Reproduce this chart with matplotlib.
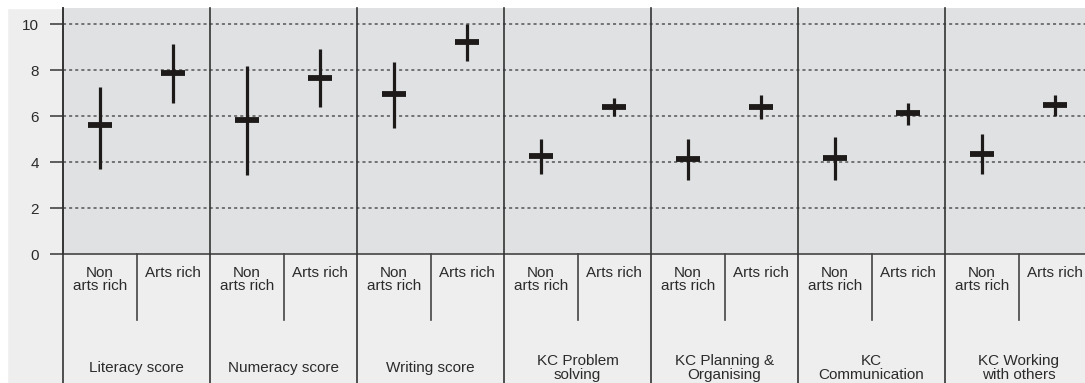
import matplotlib.pyplot as plt
from matplotlib.patches import Rectangle
import matplotlib.transforms as mtransforms

# значения
measures = ['Literacy score', 'Numeracy score', 'Writing score', 'KC Problem\nsolving',
            'KC Planning &\nOrganising', 'KC\nCommunication', 'KC Working\nwith others']
groups = ['Non\narts rich', 'Arts rich']
non_mean = [5.6, 5.83, 6.94, 4.25, 4.13, 4.19, 4.36]
non_low = [3.7, 3.43, 5.49, 3.46, 3.22, 3.22, 3.46]
non_high = [7.26, 8.17, 8.36, 5.01, 5.01, 5.1, 5.23]
arts_mean = [7.87, 7.65, 9.2, 6.41, 6.41, 6.12, 6.48]
arts_low = [6.57, 6.39, 8.39, 6.0, 5.86, 5.61, 6.01]
arts_high = [9.13, 8.91, 10.0, 6.78, 6.91, 6.57, 6.91]
y_ticks = [0, 2, 4, 6, 8, 10]

W, H = 1085, 383
fig = plt.figure(figsize=(W / 100, H / 100), dpi=100)
fig.set_facecolor('#eeeeee')
plt.rcParams['font.family'] = ['Liberation Sans', 'DejaVu Sans']

# белые поля сверху и слева
fig.patches.append(Rectangle((0, 1 - 8 / H), 1, 8 / H, transform=fig.transFigure,
                             color='white', zorder=-5))
fig.patches.append(Rectangle((0, 0), 7 / W, 1, transform=fig.transFigure,
                             color='white', zorder=-5))

x0, x1 = 63, 1092
ytop, ybot = 8, 254
ax = fig.add_axes([x0 / W, 1 - ybot / H, (x1 - x0) / W, (ybot - ytop) / H])
ax.set_facecolor('#e0e1e3')
n = len(measures)
ax.set_xlim(0, 2 * n)
ax.set_ylim(0, 10 + (24 - ytop) / 23)

for s in ['top', 'right']:
    ax.spines[s].set_visible(False)
ax.spines['left'].set_color('#333333')
ax.spines['bottom'].set_color('#444444')
ax.spines['left'].set_linewidth(1.2)
ax.spines['bottom'].set_linewidth(1.2)
ax.set_xticks([])
ax.set_yticks(y_ticks)
ax.tick_params(axis='y', length=9.4, width=1.2, color='#444444', labelsize=11,
               labelcolor='#2b2b2b', pad=8)
for t in y_ticks[1:]:
    ax.axhline(t, color='#555555', lw=1.1, ls=(0, (2, 2)), zorder=1)

trans = mtransforms.blended_transform_factory(ax.transData, ax.transAxes)
bottom = -(H - ybot) / (ybot - ytop)
sub_bottom = -(320 - ybot) / (ybot - ytop)

for i in range(n):
    # разделители групп
    ax.plot([2 * i, 2 * i], [1.0, bottom], transform=trans, color='#333333',
            lw=1.2, clip_on=False, zorder=3)
    ax.plot([2 * i + 1, 2 * i + 1], [0, sub_bottom], transform=trans, color='#444444',
            lw=1.2, clip_on=False, zorder=3)
    for j, g in enumerate(groups):
        ax.text(2 * i + 0.5 + j, -0.05, g, transform=trans, ha='center', va='top',
                fontsize=11, color='#2b2b2b', linespacing=0.92)
    ax.text(2 * i + 1, -(368 - ybot) / (ybot - ytop), measures[i], transform=trans,
            ha='center', va='center', fontsize=11, color='#2b2b2b', linespacing=0.92,
            clip_on=False)

xs_non = [2 * i + 0.5 for i in range(n)]
xs_arts = [2 * i + 1.5 for i in range(n)]
ax.vlines(xs_non, non_low, non_high, color='#1e1a1a', lw=2.3, zorder=4)
ax.vlines(xs_arts, arts_low, arts_high, color='#1e1a1a', lw=2.3, zorder=4)
ax.plot(xs_non, non_mean, ls='none', marker='_', ms=17.5, mew=4.2, color='#1e1a1a', zorder=5)
ax.plot(xs_arts, arts_mean, ls='none', marker='_', ms=17.5, mew=4.2, color='#1e1a1a', zorder=5)

plt.savefig('out.png', dpi=100, facecolor=fig.get_facecolor())
